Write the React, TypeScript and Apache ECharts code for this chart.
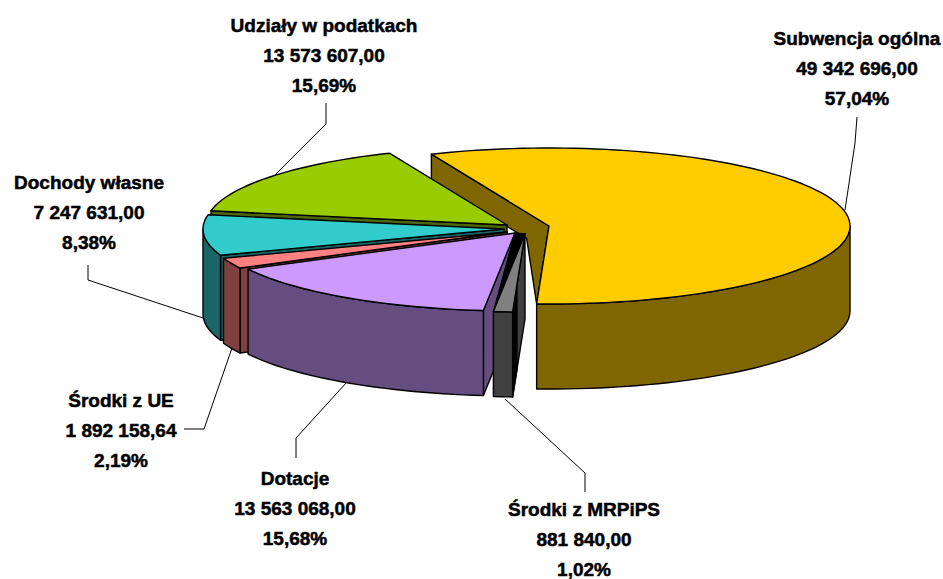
import React, { useEffect, useRef } from "react";
import * as echarts from "echarts";

// Data, in the pie's clockwise order
const sliceNames = ["Subwencja ogólna", "Środki z MRPiPS", "Dotacje", "Środki z UE", "Dochody własne", "Udziały w podatkach"];
const sliceValues = [49342696.0, 881840.0, 13563068.0, 1892158.64, 7247631.0, 13573607.0];
const amountLabels = ["49 342 696,00", "881 840,00", "13 563 068,00", "1 892 158,64", "7 247 631,00", "13 573 607,00"];
const percentLabels = ["57,04%", "1,02%", "15,68%", "2,19%", "8,38%", "15,69%"];

// Styles
const topColors = ["#FFCC00", "#808080", "#CC99FF", "#FF8080", "#33CCCC", "#99CC00"];
const wallColors = ["#806600", "#404040", "#664D80", "#804040", "#1A6666", "#4D6600"];

// Layout
const startAngle = -23;
const radiusX = 301;
const radiusY = 78;
const depth = 85;
const lineStep = 30;
const sliceCentres = [[549, 226], [525, 234], [515, 233], [507, 232], [504, 229], [507, 225]];
const labelCentres = [[857, 38], [584, 509], [295, 478], [121, 400], [89, 182], [324, 25]];
const leaderLines = [
  [[857, 117], [855, 143], [845, 210]],
  [[585, 492], [585, 473], [505, 399]],
  [[296, 458], [296, 438], [347, 382]],
  [[184, 429], [204, 429], [232, 348]],
  [[88, 265], [88, 280], [203, 318]],
  [[326, 103], [326, 124], [275, 175]],
];
const paintOrder = [0, 5, 4, 3, 2, 1];

const total = sliceValues.reduce((s, v) => s + v, 0);
const rad = (d: number) => (d * Math.PI) / 180;

function rimPoint(c: number[], angle: number, drop = 0) {
  return [c[0] + radiusX * Math.sin(rad(angle)), c[1] - radiusY * Math.cos(rad(angle)) + drop];
}
function rim(c: number[], from: number, to: number, drop = 0) {
  const n = Math.max(2, Math.ceil((to - from) / 2));
  const pts: number[][] = [];
  for (let i = 0; i <= n; i++) pts.push(rimPoint(c, from + ((to - from) * i) / n, drop));
  return pts;
}
const lerp = (p: number[], q: number[], t: number) => [p[0] + (q[0] - p[0]) * t, p[1] + (q[1] - p[1]) * t];
const down = (p: number[], d: number) => [p[0], p[1] + d];

function renderSlice(params: any, api: any) {
  const idx = api.value(1) as number;
  let from = startAngle;
  for (let i = 0; i < idx; i++) from += (sliceValues[i] / total) * 360;
  const to = from + (api.value(0) / total) * 360;
  const c = sliceCentres[idx];
  const poly = (points: number[][], fill: string) => ({
    type: "polygon",
    shape: { points },
    silent: true,
    style: { fill, stroke: "#000", lineWidth: 1.4, lineJoin: "round" },
  });
  const children: any[] = [];
  const wall = wallColors[idx];
  const apex = c;
  const s = rimPoint(c, from);
  const e = rimPoint(c, to);
  const norm = ((from % 360) + 360) % 360;

  if (idx === 0) {
    // the large slice's cut face is only partly shown, as in the reference
    const shown = 26;
    children.push(poly([s, apex, e, lerp(down(s, shown), down(apex, shown), 0.81), down(s, shown)], wall));
  } else if (norm >= 180) {
    children.push(poly([apex, s, down(s, depth), down(apex, depth)], wall));
    if (idx === 1) {
      children.push(
        poly([s, down(s, depth), lerp(down(s, depth), down(apex, depth), 0.35), lerp(s, apex, 0.35)], "#000")
      );
      // dark seam between this slice and its neighbour's cut face
      children.push(poly([sliceCentres[2], apex, e], "#000"));
    }
  }
  const lo = Math.max(from, 90);
  const hi = Math.min(to, 270);
  if (lo < hi) {
    children.push(poly([...rim(c, lo, hi), ...rim(c, lo, hi, depth).reverse()], wall));
  }
  children.push(poly([apex, ...rim(c, from, to)], topColors[idx]));

  children.push({
    type: "polyline",
    silent: true,
    shape: { points: leaderLines[idx] },
    style: { stroke: "#000", lineWidth: 1, fill: "none" },
  });
  [sliceNames[idx], amountLabels[idx], percentLabels[idx]].forEach((text, line) => {
    children.push({
      type: "text",
      silent: true,
      x: labelCentres[idx][0],
      y: labelCentres[idx][1] + line * lineStep,
      style: {
        text,
        font: 'bold 19px "Liberation Sans", Arial, sans-serif',
        align: "center",
        verticalAlign: "middle",
        fill: "#000",
        stroke: "#000",
        lineWidth: 0.5,
      },
    });
  });
  return { type: "group", children };
}

export default function App() {
  const ref = useRef<HTMLDivElement>(null);
  useEffect(() => {
    const chart = echarts.init(ref.current!, null, { renderer: "svg" });
    chart.setOption({
      animation: false,
      backgroundColor: "#fff",
      series: [
        {
          type: "custom",
          coordinateSystem: "none",
          clip: false,
          renderItem: renderSlice,
          data: paintOrder.map((i) => [sliceValues[i], i]),
        },
      ],
    });
    return () => chart.dispose();
  }, []);
  return <div ref={ref} style={{ position: "fixed", left: 0, top: 0, width: 943, height: 579 }} />;
}
